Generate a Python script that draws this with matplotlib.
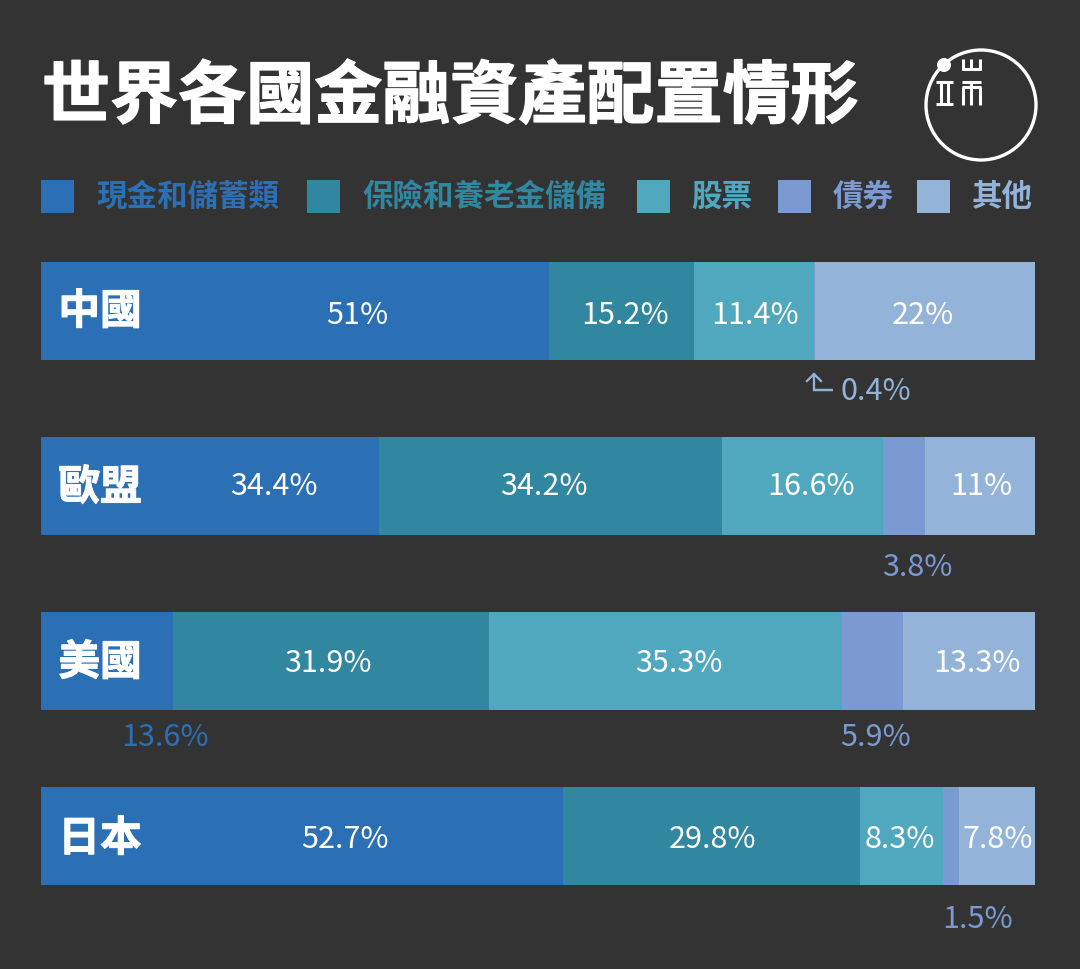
import matplotlib
matplotlib.use('Agg')
import matplotlib.pyplot as plt
import matplotlib.patheffects as pe
from matplotlib.patches import Circle, Rectangle

plt.rcParams['font.family'] = ['Noto Sans CJK TC', 'DejaVu Sans']

BG = '#333333'
WHITE = '#ffffff'

title = '世界各國金融資產配置情形'
regions = ['中國', '歐盟', '美國', '日本']
series = ['現金和儲蓄類', '保險和養老金儲備', '股票', '債券', '其他']
colors = ['#2b6fb5', '#30879f', '#50a8bf', '#7a9ad1', '#94b3d9']

# bar widths, they differ a bit from the printed numbers
cash = [51.1, 34.0, 13.3, 52.5]
insurance = [14.6, 34.5, 31.8, 29.9]
stocks = [12.1, 16.2, 35.5, 8.3]
bonds = [0.1, 4.2, 6.1, 1.7]
other = [22.1, 11.1, 13.3, 7.6]
widths = [cash, insurance, stocks, bonds, other]

# printed labels
cash_labels = ['51%', '34.4%', '13.6%', '52.7%']
insurance_labels = ['15.2%', '34.2%', '31.9%', '29.8%']
stocks_labels = ['11.4%', '16.6%', '35.3%', '8.3%']
bonds_labels = ['0.4%', '3.8%', '5.9%', '1.5%']
other_labels = ['22%', '11%', '13.3%', '7.8%']
labels = [cash_labels, insurance_labels, stocks_labels, bonds_labels, other_labels]

fig = plt.figure(figsize=(10.8, 9.69), dpi=100, facecolor=BG)

# bars
ax = fig.add_axes([40.5 / 1080, 1 - 885 / 969, 994.5 / 1080, 623 / 969])
ax.set_xlim(0, 100)
ax.set_ylim(3.28, -0.28)
ax.axis('off')

for r, region in enumerate(regions):
    left = 0
    for s in range(len(series)):
        v = widths[s][r]
        ax.barh(r, v, left=left, height=0.56, color=colors[s], linewidth=0)
        left += v

# overlay in pixels for all the text and the logo, on top of the bars
px = fig.add_axes([0, 0, 1, 1], zorder=5)
px.set_xlim(0, 1080)
px.set_ylim(969, 0)
px.axis('off')
px.patch.set_alpha(0)

inside = {
    (0, 0): 357, (1, 0): 625, (2, 0): 755, (4, 0): 923,
    (0, 1): 274, (1, 1): 544, (2, 1): 811, (4, 1): 981,
    (1, 2): 328, (2, 2): 679, (4, 2): 977,
    (0, 3): 345, (1, 3): 713, (2, 3): 900, (4, 3): 998,
}
row_y = [315, 486, 664, 840]
for (s, r), x in inside.items():
    px.text(x, row_y[r], labels[s][r], color=WHITE, fontsize=22, fontweight='light',
            ha='center', va='center')

for x, y, label, c in [
    (876, 391, bonds_labels[0], colors[4]),
    (917, 568, bonds_labels[1], colors[3]),
    (876, 737, bonds_labels[2], colors[3]),
    (978, 920, bonds_labels[3], colors[3]),
    (165, 737, cash_labels[2], colors[0]),
]:
    px.text(x, y, label, color=c, fontsize=22, fontweight='light', ha='center', va='center')

# small arrow for the 0.4% sliver
px.plot([815, 833, 814, 814], [390, 390, 390, 374], color=colors[4], lw=1.6,
        solid_joinstyle='miter')
px.plot([807, 814, 821], [381, 374, 381], color=colors[4], lw=1.6)

heavy = [pe.withStroke(linewidth=0.7, foreground=WHITE)]
name_y = [312, 488, 663, 839]
for r, region in enumerate(regions):
    px.text(100, name_y[r], region, color=WHITE, fontsize=30, fontweight='bold',
            ha='center', va='center', path_effects=heavy)

px.text(42, 98, title, color=WHITE, fontsize=49, fontweight='bold', ha='left', va='center',
        path_effects=[pe.withStroke(linewidth=1.0, foreground=WHITE)])

# legend
swatch_x = [41, 307, 637, 778, 917]
text_x = [96, 362, 691, 833, 972]
for s, name in enumerate(series):
    px.add_patch(Rectangle((swatch_x[s], 180), 33, 33, color=colors[s], lw=0))
    px.text(text_x[s], 197, name, color=colors[s], fontsize=22, fontweight='bold',
            ha='left', va='center')

# logo
px.add_patch(Circle((981, 105), 55, fill=False, edgecolor=WHITE, lw=2.4))
px.add_patch(Circle((944, 65), 7, color=WHITE, lw=0))
for xs, ys in [
    ([936, 953], [82, 82]), ([936, 953], [104, 104]), ([941, 941], [82, 104]), ([948, 948], [82, 104]),
    ([962, 981], [69, 69]), ([963, 963], [59, 70]), ([971, 971], [59, 70]), ([980, 980], [59, 70]),
    ([962, 981], [82, 82]), ([963, 963], [87, 105]), ([971, 971], [82, 105]), ([980, 980], [87, 105]),
    ([962, 981], [87, 87]),
]:
    px.plot(xs, ys, color=WHITE, lw=2.2, solid_capstyle='butt')

fig.savefig('out.png', dpi=100, facecolor=BG)
